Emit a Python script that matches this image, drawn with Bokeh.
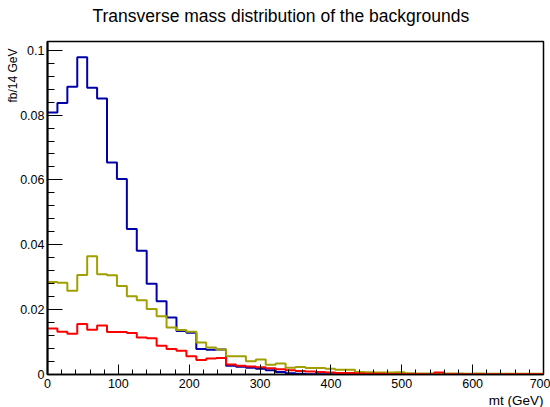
from bokeh.plotting import figure
from bokeh.models import Range1d, SingleIntervalTicker, CustomJSTickFormatter, Title
from bokeh.embed import file_html
from bokeh.resources import INLINE

# ---- data ----
bin_width = 14.0
n_bins = 50
edges = [i * bin_width for i in range(n_bins + 1)]

blue = [0.0808, 0.0837, 0.0887, 0.0978, 0.0884, 0.0851, 0.0654, 0.0603, 0.0449, 0.0382,
        0.0280, 0.0226, 0.0176, 0.0134, 0.0129, 0.0079, 0.0076, 0.0077, 0.0027, 0.0024,
        0.0021, 0.0018, 0.0013, 0.0008, 0.0004, 0.0002, 0.0001, 0.0001, 0.0001, 0.0001,
        0.0001, 0.0, 0.0, 0.0, 0.0, 0.0, 0.0, 0.0, 0.0, 0.0,
        0.0, 0.0, 0.0, 0.0, 0.0, 0.0, 0.0, 0.0, 0.0, 0.0]

olive = [0.0285, 0.0283, 0.0258, 0.0307, 0.0365, 0.0309, 0.0306, 0.0273, 0.0241, 0.0229,
         0.0202, 0.0180, 0.0145, 0.0137, 0.0132, 0.0099, 0.0083, 0.0077, 0.0056, 0.0056,
         0.0041, 0.0046, 0.0030, 0.0034, 0.0021, 0.0023, 0.0020, 0.0020, 0.0018, 0.0015,
         0.0015, 0.0008, 0.0007, 0.0006, 0.0006, 0.0007, 0.0004, 0.0003, 0.0003, 0.0003,
         0.0003, 0.0003, 0.0002, 0.0003, 0.0002, 0.0002, 0.0002, 0.0002, 0.0002, 0.0002]

red = [0.0142, 0.0132, 0.0126, 0.0156, 0.0138, 0.0151, 0.0131, 0.0131, 0.0128, 0.0114,
       0.0112, 0.0089, 0.0079, 0.0073, 0.0056, 0.0045, 0.0049, 0.0051, 0.0031, 0.0027,
       0.0025, 0.0022, 0.0019, 0.0016, 0.0013, 0.0011, 0.0009, 0.0008, 0.0006, 0.0005,
       0.0005, 0.0003, 0.0002, 0.0002, 0.0001, 0.0001, 0.0001, 0.0001, 0.0001, 0.0006,
       0.0001, 0.0001, 0.0001, 0.0001, 0.0001, 0.0001, 0.0001, 0.0001, 0.0001, 0.0001]

series = [(blue, "#0000a8"), (olive, "#a0a000"), (red, "#ff0000")]

title_text = "Transverse mass distribution of the backgrounds"
x_title = "mt (GeV)"
y_title = "fb/14 GeV"

x_max = 700.0
y_max = 1.05 * max(blue + olive + red)

FONT = "Liberation Sans"

p = figure(width=550, height=407, output_backend="svg", toolbar_location=None,
           x_range=Range1d(0, x_max), y_range=Range1d(0, y_max),
           min_border_left=47, min_border_right=7, min_border_top=41, min_border_bottom=31)
p.title = None
p.background_fill_color = "white"
p.border_fill_color = "white"
p.grid.visible = False
p.outline_line_color = "black"
p.outline_line_width = 1.5

for vals, col in series:
    ys = vals + [vals[-1]]
    p.step(edges, ys, mode="after", line_color=col, line_width=2)

# axes
xa = p.xaxis[0]
xa.ticker = SingleIntervalTicker(interval=100, num_minor_ticks=5)
xa.major_tick_in = 10
xa.major_tick_out = 0
xa.minor_tick_in = 5
xa.minor_tick_out = 0
xa.axis_line_width = 1.5
xa.major_label_standoff = 4
xa.major_label_text_font = FONT
xa.major_label_text_font_size = "12.5px"
xa.major_label_text_color = "black"

ya = p.yaxis[0]
ya.ticker = SingleIntervalTicker(interval=0.02, num_minor_ticks=5)
ya.formatter = CustomJSTickFormatter(code="return Number(tick.toFixed(3)).toString();")
ya.major_tick_in = 15
ya.major_tick_out = 0
ya.minor_tick_in = 7
ya.minor_tick_out = 0
ya.axis_line_width = 2
ya.major_label_standoff = 3
ya.major_label_text_font = FONT
ya.major_label_text_font_size = "12.5px"
ya.major_label_text_color = "black"

# titles as layout panels (a blank spacer sits between the frame and the main title)
p.add_layout(Title(text=" ", standoff=3, text_font=FONT, text_font_size="10px"), "above")
p.add_layout(Title(text=title_text, align="left", offset=45, standoff=0, vertical_align="bottom",
                   text_font=FONT, text_font_size="17.5px", text_font_style="normal",
                   text_color="black"), "above")
p.add_layout(Title(text=y_title, align="right", offset=7, standoff=-5,
                   text_font=FONT, text_font_size="12px", text_font_style="normal",
                   text_color="black"), "left")
p.add_layout(Title(text=x_title, align="right", offset=0, standoff=0,
                   text_font=FONT, text_font_size="13.5px", text_font_style="normal",
                   text_color="black"), "below")

open("out.html", "w").write(file_html(p, INLINE))
